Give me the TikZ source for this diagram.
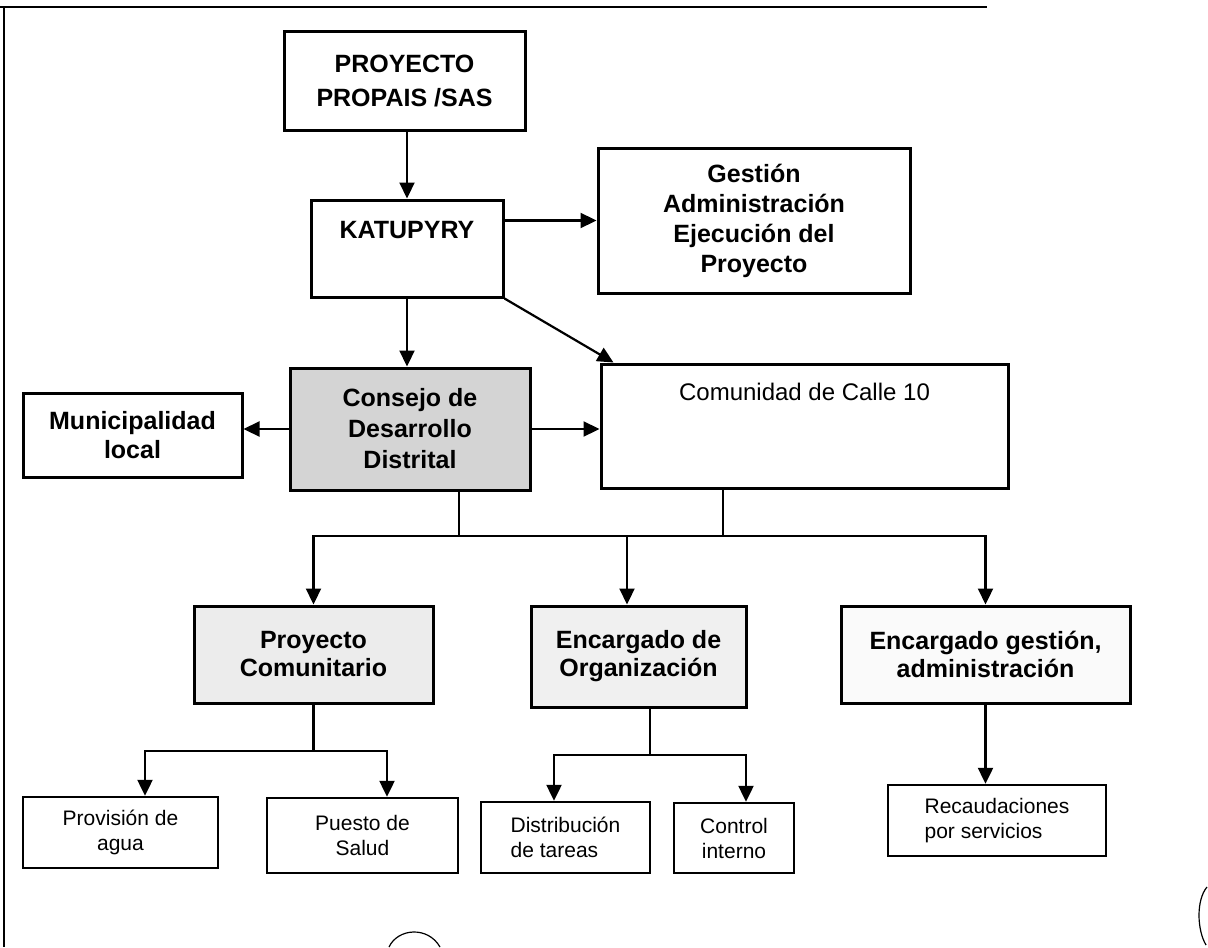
\documentclass[tikz,border=0pt]{standalone}
\usepackage{fontspec}
\setmainfont{Liberation Sans}
\usetikzlibrary{arrows.meta, calc}
\definecolor{consfill}{RGB}{212,212,212}
\definecolor{proyfill}{RGB}{236,236,236}
\definecolor{orgafill}{RGB}{240,240,240}
\definecolor{egestfill}{RGB}{250,250,250}
\tikzset{
  HB/.style={draw,line width=1.5pt,rectangle,inner sep=0pt,align=center,font=\fontsize{12.5}{15}\selectfont\bfseries},
  LF/.style={draw,line width=1.2pt,rectangle,inner sep=0pt,align=center,font=\fontsize{10.5}{12.5}\selectfont},
  FL/.style={-{Triangle[length=8pt,width=7.5pt]},line width=1.1pt},
  LN/.style={line width=1.1pt},
  FR/.style={line width=1.3pt},
}

\begin{document}
\begin{tikzpicture}[x=0.5pt,y=-0.5pt]
\useasboundingbox (0,0) rectangle (1208,947);

% page frame
\draw[FR] (0,7) -- (987,7);
\draw[FR] (4,7) -- (4,947);

% upper boxes
\node[HB,minimum width=120.5pt,minimum height=49pt,font=\fontsize{12.5}{17}\selectfont\bfseries](top) at (404.5,81){PROYECTO\\PROPAIS /SAS};
\node[HB,minimum width=96pt,minimum height=48.5pt,text height=19pt,text depth=29.5pt](katu) at (407,248.5){KATUPYRY};
\node[HB,minimum width=156pt,minimum height=72.5pt](gest) at (754,220.5){Gestión\\Administración\\Ejecución del\\Proyecto};
\node[HB,fill=consfill,minimum width=120pt,minimum height=61pt,font=\fontsize{12.5}{15.5}\selectfont\bfseries](cons) at (410,429){Consejo de\\Desarrollo\\Distrital};
\node[HB,minimum width=203.5pt,minimum height=62pt,text height=18pt,text depth=44pt,font=\fontsize{12}{14}\selectfont](comu) at (804.5,426){Comunidad de Calle 10};
\node[HB,minimum width=109.5pt,minimum height=42pt,font=\fontsize{12.5}{14.5}\selectfont\bfseries](muni) at (132.5,435){Municipalidad\\local};

% second level
\node[HB,fill=proyfill,minimum width=119.5pt,minimum height=48.5pt,font=\fontsize{12.5}{14}\selectfont\bfseries](proy) at (313.5,654.5){Proyecto\\Comunitario};
\node[HB,fill=orgafill,minimum width=107.5pt,minimum height=50.5pt,font=\fontsize{12.5}{14}\selectfont\bfseries](orga) at (638.5,656.5){Encargado de\\Organización};
\node[HB,fill=egestfill,minimum width=144.5pt,minimum height=48.5pt,font=\fontsize{12.5}{14}\selectfont\bfseries](egest) at (985.5,654.5){Encargado gestión,\\administración};

% leaves
\node[LF,minimum width=97.5pt,minimum height=35.5pt](agua) at (120.5,832.5){Provisión de\\agua};
\node[LF,minimum width=95.5pt,minimum height=37.5pt](salud) at (362.5,835.5){Puesto de\\Salud};
\node[LF,align=left,minimum width=84.5pt,minimum height=35.5pt](tareas) at (565.5,837.5){Distribución\\de tareas};
\node[LF,minimum width=60pt,minimum height=35pt](ctrl) at (734,838){Control\\interno};
\node[LF,align=left,minimum width=109pt,minimum height=35.5pt](recau) at (997,820.5){Recaudaciones\\por servicios};

% top flows
\draw[FL] (top.south -| katu.north) -- (katu.north);
\draw[FL] (katu.east |- gest.west) -- (gest.west);
\draw[FL] (katu.south east) -- ([xshift=7pt]comu.north west);
\draw[FL] (katu.south) -- (katu.south |- cons.north);
\draw[FL] (cons.west) -- (cons.west -| muni.east);
\draw[FL] (cons.east) -- (cons.east -| comu.west);

% bus to second level
\coordinate (bus) at (0,536);
\coordinate (cdrop) at ([xshift=24.5pt]cons.south);
\coordinate (mdrop) at ([xshift=-40.75pt]comu.south);
\draw[LN] (cdrop) -- (cdrop |- bus) -- (mdrop |- bus) -- (mdrop);
\draw[FL] (cdrop |- bus) -| (proy.north);
\draw[FL] (mdrop |- bus) -| (egest.north);
\draw[FL] ([xshift=-5.75pt]orga.north |- bus) -- ([xshift=-5.75pt]orga.north);

% Proyecto Comunitario -> leaves
\coordinate (pbus) at (0,751);
\draw[LN] (proy.south) -- (proy.south |- pbus);
\draw[FL] (proy.south |- pbus) -| ([xshift=12.25pt]agua.north);
\draw[FL] (proy.south |- pbus) -| ([xshift=12.25pt]salud.north);

% Organizacion -> leaves
\coordinate (obus) at (0,755);
\draw[LN] ([xshift=5.75pt]orga.south) -- ([xshift=5.75pt]orga.south |- obus);
\draw[FL] ([xshift=5.75pt]orga.south |- obus) -| ([xshift=-5.75pt]tareas.north);
\draw[FL] ([xshift=5.75pt]orga.south |- obus) -| ([xshift=6pt]ctrl.north);

% gestion -> recaudaciones
\draw[FL] (egest.south) -- (egest.south |- recau.north);

% pen marks
\draw[line width=0.6pt] (389,947) .. controls (398,928) and (428,926) .. (440,947);
\draw[line width=0.6pt] (1207,887) .. controls (1196,900) and (1197,930) .. (1206,945);

\end{tikzpicture}
\end{document}
